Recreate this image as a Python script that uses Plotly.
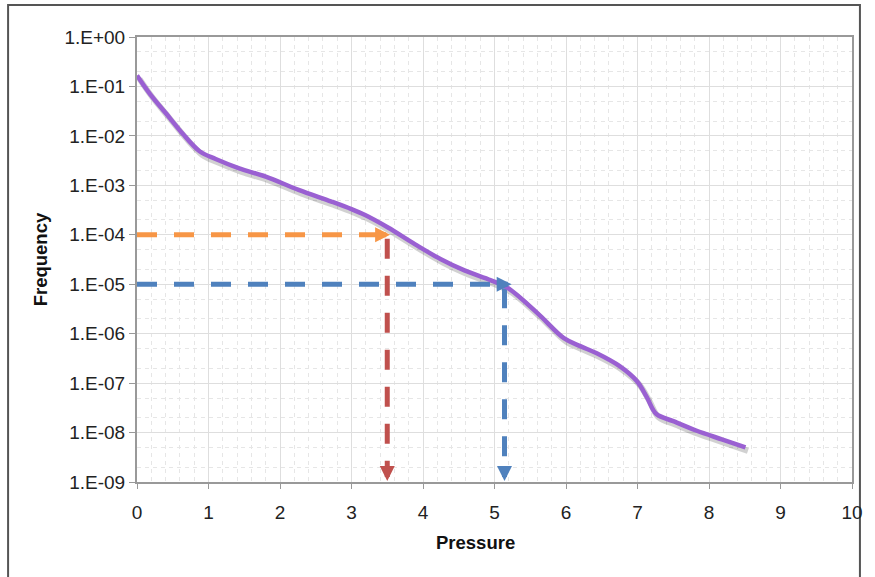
import numpy as np
import plotly.graph_objects as go

# Exceedance curve: frequency vs pressure
pressure = [0.0, 0.18, 0.41, 0.64, 0.875, 1.1, 1.43, 1.8, 2.26, 2.72, 3.0, 3.19,
            3.51, 3.89, 4.25, 4.58, 4.95, 5.18, 5.6, 5.97, 6.2, 6.43, 6.75, 6.99,
            7.13, 7.26, 7.5, 7.82, 8.19, 8.51]
frequency = [1.67e-1, 7.1e-2, 2.8e-2, 1.1e-2, 4.9e-3, 3.4e-3, 2.2e-3, 1.5e-3, 8.1e-4,
             4.7e-4, 3.3e-4, 2.5e-4, 1.4e-4, 6.4e-5, 3.2e-5, 1.9e-5, 1.2e-5, 8.5e-6,
             2.6e-6, 8.1e-7, 5.6e-7, 4.0e-7, 2.2e-7, 1.1e-7, 5.2e-8, 2.4e-8, 1.7e-8,
             1.1e-8, 7.2e-9, 5.0e-9]

# Read-off guides: target frequency -> pressure
guide_freq = [1e-4, 1e-5]
guide_pressure = [3.5, 5.14]
guide_tip = [3.54, 5.24]
h_colors = ["#F79646", "#4F81BD"]
v_colors = ["#C0504D", "#4F81BD"]

x_ticks = list(range(0, 11))
y_tickvals = [10.0 ** -k for k in range(0, 10)]
y_ticktext = ["1.E+00", "1.E-01", "1.E-02", "1.E-03", "1.E-04",
              "1.E-05", "1.E-06", "1.E-07", "1.E-08", "1.E-09"]

y_min, y_max = 1e-9, 1.0
font = "Liberation Sans, Arial, sans-serif"

fig = go.Figure()

# soft drop shadow under the curve
px_per_x = 721 / 10
px_per_dec = 445 / 9
fig.add_trace(go.Scatter(
    x=[p + 2.5 / px_per_x for p in pressure],
    y=[f * 10 ** (-3.5 / px_per_dec) for f in frequency],
    mode="lines", line=dict(color="rgba(0,0,0,0.18)", width=6, shape="spline"),
    hoverinfo="skip", showlegend=False))

# guide lines (dashed)
dash = "20px,17px"
for f, p, tip, hc, vc in zip(guide_freq, guide_pressure, guide_tip, h_colors, v_colors):
    fig.add_trace(go.Scatter(x=[0, tip - 0.12], y=[f, f], mode="lines",
                             line=dict(color=hc, width=5, dash=dash),
                             hoverinfo="skip", showlegend=False))
    fig.add_trace(go.Scatter(x=[p, p], y=[f * 10 ** (-0.08), y_min * 10 ** 0.3], mode="lines",
                             line=dict(color=vc, width=5, dash=dash),
                             hoverinfo="skip", showlegend=False))
    fig.add_annotation(x=tip, y=np.log10(f), ax=-14, ay=0, axref="pixel", ayref="pixel",
                       showarrow=True, arrowhead=2, arrowwidth=5, arrowsize=0.6,
                       arrowcolor=hc, text="", standoff=0)
    fig.add_annotation(x=p, y=np.log10(y_min) + 0.02, ax=0, ay=-14, axref="pixel",
                       ayref="pixel", showarrow=True, arrowhead=2, arrowwidth=5,
                       arrowsize=0.6, arrowcolor=vc, text="", standoff=0)

# main curve
fig.add_trace(go.Scatter(x=pressure, y=frequency, mode="lines",
                         line=dict(color="#9A60D2", width=4.5, shape="spline"),
                         showlegend=False))

fig.update_xaxes(
    range=[0, 10], tickvals=x_ticks, ticks="outside", ticklen=5, tickcolor="#999",
    ticklabelstandoff=7,
    showline=True, linecolor="#999", linewidth=2, mirror=True,
    showgrid=True, gridcolor="#dedede", gridwidth=1, zeroline=False,
    minor=dict(dtick=0.2, showgrid=True, gridcolor="#e6e6e6", griddash="4px,4px"),
    tickfont=dict(family=font, size=19, color="#222"))
fig.update_yaxes(
    type="log", range=[np.log10(y_min), np.log10(y_max)],
    tickvals=y_tickvals, ticktext=y_ticktext, ticks="outside", ticklen=6, tickcolor="#999",
    showline=True, linecolor="#999", linewidth=2, mirror=True,
    showgrid=True, gridcolor="#dedede", gridwidth=1, zeroline=False,
    minor=dict(showgrid=True, gridcolor="#e6e6e6", griddash="4px,4px"),
    tickfont=dict(family=font, size=19, color="#222"))

fig.add_annotation(text="<b>Frequency</b>", xref="paper", yref="paper",
                   x=-0.1345, y=0.5, xanchor="center", yanchor="middle",
                   textangle=-90, showarrow=False,
                   font=dict(family=font, size=18.5, color="#111"))
fig.add_annotation(text="<b>Pressure</b>", xref="paper", yref="paper",
                   x=0.473, y=-0.137, xanchor="center", yanchor="middle",
                   showarrow=False,
                   font=dict(family=font, size=18.5, color="#111"))

# outer chart frame
fig.add_shape(type="rect", xref="paper", yref="paper",
              x0=-0.1803, x1=1.0111, y0=-0.25, y1=1.072,
              line=dict(color="#555", width=2), fillcolor="rgba(0,0,0,0)", layer="below")

fig.update_layout(
    width=875, height=577, margin=dict(l=137, r=17, t=37, b=95),
    paper_bgcolor="white", plot_bgcolor="white", showlegend=False)

fig.write_html("out.html")
